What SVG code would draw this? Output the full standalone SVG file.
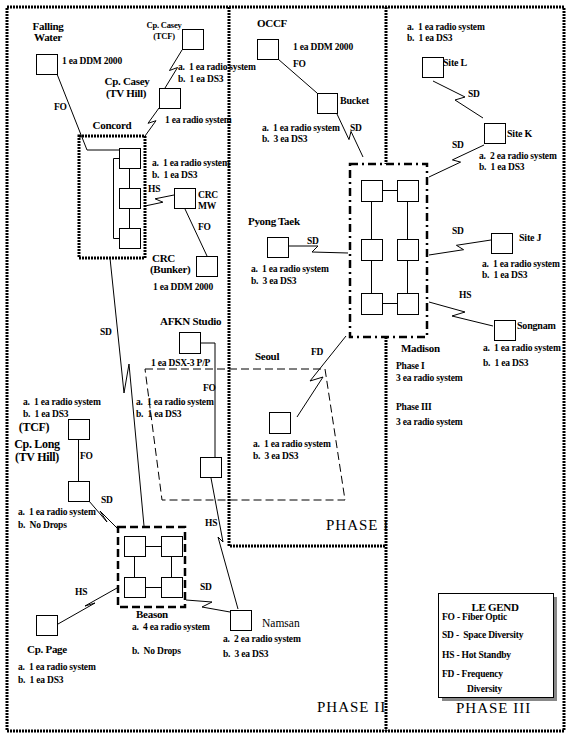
<svg xmlns="http://www.w3.org/2000/svg" width="569" height="740" viewBox="0 0 569 740">
<style>
.bx{fill:#fff;stroke:#000;stroke-width:1}
.ln{fill:none;stroke:#000;stroke-width:1}
.dsh{fill:none;stroke:#000;stroke-width:1;stroke-dasharray:8 4}
.ph{fill:none;stroke:#000;stroke-width:3;stroke-dasharray:2 1}
.bea{fill:none;stroke:#000;stroke-width:2.5;stroke-dasharray:8 4}
.mad{fill:#fff;stroke:#000;stroke-width:2.5;stroke-dasharray:8 4 2 4}
text{font-family:"Liberation Serif","Times New Roman",serif;font-weight:bold;fill:#000;white-space:pre}
.s{font-size:9.5px;letter-spacing:-0.2px}
.n{font-size:11px;letter-spacing:-0.3px}
.m{text-anchor:middle}
.P{font-size:15px;font-weight:normal;letter-spacing:1px}
</style>
<rect width="569" height="740" fill="#fff"/>

<g id="phases">
<rect x="7" y="7" width="557" height="724" class="ph"/>
<polyline points="229,7 229,546 386,546" class="ph"/>
<line x1="386" y1="7" x2="386" y2="164" class="ph"/>
<line x1="386" y1="337" x2="386" y2="731" class="ph"/>
<polygon points="145,369 325,369 345,500 162,500" class="dsh"/>
<text x="326" y="530" class="P">PHASE I</text>
<text x="317" y="712" class="P">PHASE II</text>
<text x="456" y="713" class="P">PHASE III</text>
</g>

<g id="connectors">
<polyline points="57,74 87,150 119,150" class="ln"/>
<text x="54" y="110" class="s">FO</text>
<polyline points="145,136 156,120.7 148,123.3 159,108" class="ln"/>
<polyline points="165,88 177.5,67.5 169.5,70.5 182,50" class="ln"/>
<polyline points="145,206 162.9,202.2 155.1,198.8 174,195" class="ln"/>
<text x="148" y="192" class="s">HS</text>
<line x1="185" y1="209" x2="207" y2="256" class="ln"/>
<text x="198" y="230" class="s">FO</text>
<polyline points="110,258 124,393 129,364 144,526" class="ln"/>
<text x="100" y="335" class="s">SD</text>
<polyline points="201,343 215,343 215,457" class="ln"/>
<text x="203" y="391" class="s">FO</text>
<line x1="78.5" y1="439" x2="78.5" y2="481" class="ln"/>
<text x="80" y="459" class="s">FO</text>
<polyline points="89,501 107,522 100,511 117,528" class="ln"/>
<text x="101" y="503" class="s">SD</text>
<polyline points="58,624 95,603 85,606 117,588" class="ln"/>
<text x="75" y="595" class="s">HS</text>
<polyline points="186,600 212,602 202,607 230,612" class="ln"/>
<text x="200" y="590" class="s">SD</text>
<polyline points="211,478 223,542 218,537 238,609" class="ln"/>
<text x="205" y="526" class="s">HS</text>
<line x1="278" y1="59" x2="317" y2="93" class="ln"/>
<text x="293" y="67" class="s">FO</text>
<polyline points="337,114 349,139.6 351,131.4 363,157" class="ln"/>
<text x="350" y="131" class="s">SD</text>
<polyline points="289,246 318,246 312,252 348,253" class="ln"/>
<text x="307" y="244" class="s">SD</text>
<polyline points="346,336 310,381 323,377 297,417" class="ln"/>
<text x="311" y="355" class="s">FD</text>
<polyline points="433,81 465,97 455,100 483,118" class="ln"/>
<text x="468" y="97" class="s">SD</text>
<polyline points="484,145 452.4,159.9 460.6,162.1 429,177" class="ln"/>
<text x="452" y="148" class="s">SD</text>
<polyline points="491,240 456.4,245.3 463.6,249.7 429,255" class="ln"/>
<text x="452" y="234" class="s">SD</text>
<polyline points="429,302 465,312 452,316 493,326" class="ln"/>
<text x="459" y="298" class="s">HS</text>
</g>

<g id="falling-water">
<rect x="36.5" y="54.5" width="21" height="20" class="bx"/>
<text x="48" y="30" class="n m">Falling</text>
<text x="48" y="41" class="n m">Water</text>
<text x="62" y="64" class="s">1 ea DDM 2000</text>
</g>

<g id="cp-casey-tcf">
<rect x="182.5" y="29.5" width="21" height="20" class="bx"/>
<text x="164" y="28" class="s m" style="font-size:8.5px">Cp. Casey</text>
<text x="164" y="39" class="s m" style="font-size:8.5px">(TCF)</text>
<text x="178" y="70" class="s">a.  1 ea radio system</text>
<text x="178" y="82" class="s">b.  1 ea DS3</text>
</g>

<g id="cp-casey-tv-hill">
<rect x="159.5" y="88.5" width="21" height="20" class="bx"/>
<text x="127" y="85" class="n m">Cp. Casey</text>
<text x="126" y="97" class="n m">(TV Hill)</text>
<text x="165" y="123" class="s">1 ea radio system</text>
</g>

<g id="concord">
<rect x="79" y="136" width="66" height="122" class="ph"/>
<line x1="129.5" y1="168" x2="129.5" y2="188" class="ln"/>
<line x1="129.5" y1="208" x2="129.5" y2="228" class="ln"/>
<polyline points="119,158.5 113.5,158.5 113.5,238.5 119,238.5" class="ln"/>
<rect x="119.5" y="148.5" width="21" height="20" class="bx"/>
<rect x="119.5" y="188.5" width="21" height="20" class="bx"/>
<rect x="119.5" y="228.5" width="21" height="20" class="bx"/>
<text x="112" y="129" class="n m">Concord</text>
<text x="152" y="166" class="s">a.  1 ea radio system</text>
<text x="152" y="178" class="s">b.  1 ea DS3</text>
</g>

<g id="crc-mw">
<rect x="174.5" y="188.5" width="21" height="20" class="bx"/>
<text x="198" y="198" class="s">CRC</text>
<text x="198" y="209" class="s">MW</text>
</g>

<g id="crc-bunker">
<rect x="196.5" y="256.5" width="21" height="20" class="bx"/>
<text x="152" y="262" class="n">CRC</text>
<text x="150" y="273" class="n">(Bunker)</text>
<text x="153" y="290" class="s">1 ea DDM 2000</text>
</g>

<g id="afkn-studio">
<rect x="179.5" y="332.5" width="21" height="21" class="bx"/>
<text x="160" y="325" class="n">AFKN Studio</text>
<text x="151" y="366" class="s">1 ea DSX-3 P/P</text>
</g>

<g id="afkn-relay">
<rect x="200.5" y="457.5" width="21" height="20" class="bx"/>
<text x="136" y="405" class="s">a.  1 ea radio system</text>
<text x="136" y="417" class="s">b.  1 ea DS3</text>
</g>

<g id="cp-long-tcf">
<rect x="68.5" y="419.5" width="21" height="20" class="bx"/>
<text x="23" y="405" class="s">a.  1 ea radio system</text>
<text x="23" y="417" class="s">b.  1 ea DS3</text>
<text x="34" y="431" class="n m" style="font-size:12px">(TCF)</text>
<text x="37" y="448" class="n m" style="font-size:12px">Cp. Long</text>
<text x="37" y="461" class="n m" style="font-size:12px">(TV Hill)</text>
</g>

<g id="cp-long-tv-hill">
<rect x="68.5" y="481.5" width="21" height="20" class="bx"/>
<text x="18" y="515" class="s">a.  1 ea radio system</text>
<text x="18" y="528" class="s">b.  No Drops</text>
</g>

<g id="beason">
<rect x="118" y="527" width="67" height="80" class="bea"/>
<line x1="145" y1="546.5" x2="161" y2="546.5" class="ln"/>
<line x1="145" y1="587.5" x2="161" y2="587.5" class="ln"/>
<line x1="134.5" y1="556" x2="134.5" y2="577" class="ln"/>
<line x1="171.5" y1="556" x2="171.5" y2="577" class="ln"/>
<rect x="124.5" y="536.5" width="21" height="20" class="bx"/>
<rect x="161.5" y="536.5" width="21" height="20" class="bx"/>
<rect x="124.5" y="577.5" width="21" height="20" class="bx"/>
<rect x="161.5" y="577.5" width="21" height="20" class="bx"/>
<text x="152" y="618" class="n m">Beason</text>
<text x="132" y="630" class="s">a.  4 ea radio system</text>
<text x="132" y="654" class="s">b.  No Drops</text>
</g>

<g id="cp-page">
<rect x="36.5" y="615.5" width="21" height="20" class="bx"/>
<text x="47" y="653" class="n m">Cp. Page</text>
<text x="18" y="670" class="s">a.  1 ea radio system</text>
<text x="18" y="683" class="s">b.  1 ea DS3</text>
</g>

<g id="namsan">
<rect x="230.5" y="610.5" width="21" height="20" class="bx"/>
<text x="262" y="627" style="font-size:11.5px;font-weight:normal">Namsan</text>
<text x="223" y="642" class="s">a.  2 ea radio system</text>
<text x="223" y="657" class="s">b.  3 ea DS3</text>
</g>

<g id="occf">
<rect x="257.5" y="39.5" width="21" height="20" class="bx"/>
<text x="257" y="27" class="n">OCCF</text>
<text x="293" y="50" class="s">1 ea DDM 2000</text>
</g>

<g id="bucket">
<rect x="317.5" y="93.5" width="20" height="20" class="bx"/>
<text x="340" y="104" class="s" style="font-size:10px">Bucket</text>
<text x="262" y="131" class="s">a.  1 ea radio system</text>
<text x="262" y="142" class="s">b.  3 ea DS3</text>
</g>

<g id="pyong-taek">
<rect x="267.5" y="237.5" width="21" height="20" class="bx"/>
<text x="248" y="225" class="n">Pyong Taek</text>
<text x="251" y="272" class="s">a.  1 ea radio system</text>
<text x="251" y="284" class="s">b.  3 ea DS3</text>
</g>

<g id="seoul">
<rect x="269.5" y="412.5" width="21" height="21" class="bx"/>
<text x="255" y="360" class="n">Seoul</text>
<text x="253" y="447" class="s">a.  1 ea radio system</text>
<text x="253" y="459" class="s">b.  3 ea DS3</text>
</g>

<g id="madison">
<rect x="350" y="164" width="77" height="173" class="mad"/>
<line x1="382" y1="190.5" x2="397" y2="190.5" class="ln"/>
<line x1="382" y1="303.5" x2="397" y2="303.5" class="ln"/>
<line x1="371.5" y1="201" x2="371.5" y2="293" class="ln"/>
<line x1="407.5" y1="201" x2="407.5" y2="293" class="ln"/>
<rect x="361.5" y="180.5" width="21" height="21" class="bx"/>
<rect x="397.5" y="180.5" width="21" height="21" class="bx"/>
<rect x="361.5" y="239.5" width="21" height="21" class="bx"/>
<rect x="397.5" y="239.5" width="21" height="21" class="bx"/>
<rect x="361.5" y="293.5" width="21" height="21" class="bx"/>
<rect x="397.5" y="293.5" width="21" height="21" class="bx"/>
<text x="401" y="352" class="n">Madison</text>
<text x="396" y="369" class="s">Phase I</text>
<text x="396" y="381" class="s">3 ea radio system</text>
<text x="396" y="410" class="s">Phase III</text>
<text x="396" y="425" class="s">3 ea radio system</text>
</g>

<g id="site-l">
<rect x="422.5" y="57.5" width="21" height="20" class="bx"/>
<text x="407" y="30" class="s">a.  1 ea radio system</text>
<text x="407" y="41" class="s">b.  1 ea DS3</text>
<text x="443" y="66" class="s" style="font-size:10px">Site L</text>
</g>

<g id="site-k">
<rect x="484.5" y="123.5" width="21" height="20" class="bx"/>
<text x="507" y="137" class="s" style="font-size:10px">Site K</text>
<text x="479" y="159" class="s">a.  2 ea radio system</text>
<text x="479" y="170" class="s">b.  1 ea DS3</text>
</g>

<g id="site-j">
<rect x="491.5" y="233.5" width="21" height="20" class="bx"/>
<text x="519" y="241" class="s" style="font-size:10px">Site J</text>
<text x="482" y="267" class="s">a.  1 ea radio system</text>
<text x="482" y="278" class="s">b.  1 ea DS3</text>
</g>

<g id="songnam">
<rect x="494.5" y="320.5" width="21" height="20" class="bx"/>
<text x="517" y="329" class="s" style="font-size:10px">Songnam</text>
<text x="483" y="351" class="s">a.  1 ea radio system</text>
<text x="483" y="366" class="s">b.  1 ea DS3</text>
</g>

<g id="legend">
<rect x="442" y="597" width="115" height="104" fill="#888"/>
<rect x="438.5" y="593.5" width="115" height="104" class="bx"/>
<text x="495" y="611" class="n m">LE GEND</text>
<text x="442" y="620" class="s">FO - Fiber Optic</text>
<text x="442" y="638" class="s">SD -  Space Diversity</text>
<text x="442" y="658" class="s">HS - Hot Standby</text>
<text x="442" y="677" class="s">FD - Frequency</text>
<text x="467" y="692" class="s">Diversity</text>
</g>
</svg>
